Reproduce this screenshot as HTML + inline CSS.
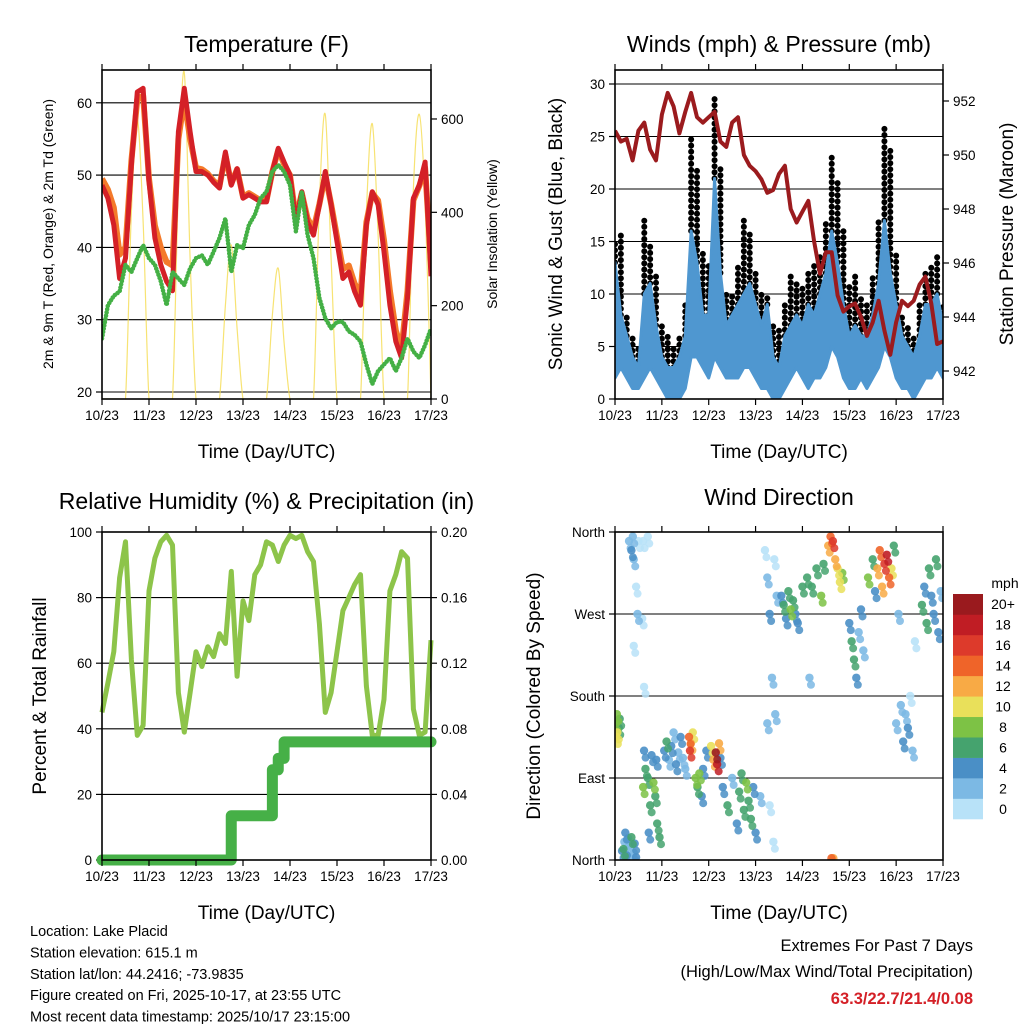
<!DOCTYPE html>
<html><head><meta charset="utf-8"><style>
html,body{margin:0;padding:0;background:#fff}
svg text{font-family:"Liberation Sans",Arial,sans-serif}
</style></head><body>
<svg id="c" width="1024" height="1024" viewBox="0 0 1024 1024" xmlns="http://www.w3.org/2000/svg">
<rect width="1024" height="1024" fill="#fff"/>
</svg>
<script>
// ---------- data (3-hourly samples starting 10/23 UTC) ----------
const dayLabels=["10/23","11/23","12/23","13/23","14/23","15/23","16/23","17/23"];
const temp2m=[48.6,46.8,43.1,35.7,38.5,51.4,61.5,62,49.1,41.3,37.6,35.3,34,56,62,56,50.5,50.5,50,49,48.2,53.2,48.6,50.9,46.8,47.3,46.8,46.3,46.3,50.5,53.7,51.8,50,43.5,47.7,43.5,41.7,45.9,50.5,45.9,40.8,35.7,36.6,33.9,32,43.1,47.7,45.9,39.4,32,27,24.7,33,46.8,48.6,51.8,36];
const temp9m=[49.5,48,45.5,39,40,52,60.5,61,49.5,43,40,38,37.5,55,60.5,55,51,50.8,50.2,49.2,48.5,52.8,48.8,50.8,47,47.5,47,46.5,46.5,50.5,53.5,51.5,50,44,47.5,44,42.5,46,50,46,41.5,37,37.5,35,33.5,43.5,47.5,46.5,41,34,28.5,26,34,46.5,48.5,51,38];
const dewpt=[27.4,32,33.3,33.9,37.6,36.6,38.5,40.3,38.5,37.6,35.3,32,36.6,35.7,34.8,37.1,38.5,38.9,37.6,39.4,41.3,44,36.6,40.3,39.9,43.1,44.5,46.8,47.7,50.5,51.4,50.5,48.6,42.2,47.7,41.7,38.5,33,30.2,28.8,29.7,29.7,28.4,27.9,27,23.8,21.1,22.9,23.8,24.7,22.9,24.7,27.4,25.6,24.7,26.5,28.8];
const solar=[0,0,0,0,0,400,600,380,0,0,0,0,0,450,700,300,0,0,0,0,0,200,330,150,0,0,0,0,0,180,280,120,0,0,0,0,0,420,610,300,0,0,0,0,0,400,590,350,0,0,0,0,0,450,610,420,0];
const windMin=[2,3,2,1,1,2,3,2,1,0,0,0,1,4,4,3,2,4,3,2,2,2,3,3,2,1,1,0,0,1,2,3,2,1,2,2,3,5,4,2,1,1,2,1,2,3,5,4,2,1,1,0,1,2,2,3,2];
const windMax=[13,8,6,4,3,10,11,7,4,3,3,4,6,16,13,8,8,21,12,7,8,9,10,11,9,7,9,4,3,6,7,8,7,9,8,10,12,16,13,9,6,7,6,6,8,11,17,12,9,6,5,4,6,9,9,10,7];
const gust=[15,16,8,6,5,17,15,12,7,6,5,6,9,25,22,14,13,29,22,10,10,13,17,16,12,10,10,7,7,9,12,11,11,12,13,14,17,23,21,16,11,12,10,9,12,17,26,24,14,8,7,6,9,12,13,14,9];
const pressure=[950.9,950.5,950.6,949.8,950.9,951.2,950.2,949.8,951.5,952.3,951.8,950.8,951.6,952.3,951.4,951.2,951.4,951.6,950.5,950.3,951.2,951.4,950.0,949.6,949.4,949.1,948.6,948.7,949.3,949.6,948.0,947.5,947.9,948.3,946.8,945.6,946.4,946.4,944.8,944.2,944.4,944.5,944.0,943.3,943.8,944.6,943.5,942.6,943.8,944.6,944.4,944.6,945.2,945.5,944.5,943.0,943.1];
const rh=[45,54,63.5,86,97,61,38,41,82,92,97,99,96,51,39,51,63.5,59,65,62,69,66,88,56,79,73,87,90,97,96,91,96,99,98,99,94,91,72,45,51,63.5,76,80,84,87,53,38,38,49,82,87,94,92,46,38,39,67];
const precip=[0,0,0,0,0,0,0,0,0,0,0,0,0,0,0,0,0,0,0,0,0,0,0.027,0.027,0.027,0.027,0.027,0.027,0.027,0.055,0.062,0.072,0.072,0.072,0.072,0.072,0.072,0.072,0.072,0.072,0.072,0.072,0.072,0.072,0.072,0.072,0.072,0.072,0.072,0.072,0.072,0.072,0.072,0.072,0.072,0.072,0.072];
// wind direction observations: day offset, degrees, speed mph
const dirDay=[0.02,0.04,0.05,0.08,0.1,0.03,0.15,0.2,0.25,0.3,0.35,0.4,0.45,0.22,0.32,0.42,0.18,0.28,0.3,0.35,0.38,0.4,0.45,0.48,0.5,0.6,0.58,0.62,0.7,0.4,0.6,0.65,0.7,0.75,0.78,0.82,0.86,0.9,0.95,0.62,0.72,0.88,1.05,1.1,1.15,1.2,1.25,1.3,1.35,1.4,1.45,1.5,1.58,1.6,1.62,1.66,1.72,1.76,1.8,1.85,1.88,1.95,2.05,2.1,2.15,2.18,2.22,2.25,2.3,2.4,2.5,2.6,2.65,2.7,2.75,2.8,2.85,2.9,2.95,3.0,3.1,3.2,3.25,3.3,3.35,3.4,3.42,3.45,3.25,3.3,3.38,3.55,3.6,3.65,3.7,3.75,3.8,3.9,4.0,3.85,4.1,4.2,4.3,4.4,4.45,4.15,4.55,4.6,4.65,4.7,4.75,4.8,4.85,4.62,4.66,5.0,5.05,5.1,5.15,5.2,5.25,5.3,5.4,5.5,5.6,5.65,5.7,5.75,5.8,5.85,5.9,5.95,5.55,6.0,6.1,6.15,6.2,6.25,6.3,6.35,6.05,6.4,6.55,6.6,6.65,6.7,6.75,6.8,6.85,6.9,6.95];
const dirDeg=[150,160,140,145,155,135,10,20,5,15,25,8,3,30,2,18,12,24,350,340,355,330,300,270,350,350,265,190,355,235,80,100,90,60,115,85,70,40,25,120,30,110,120,130,110,125,140,105,118,135,112,100,135,120,128,140,90,80,95,70,100,120,125,110,118,105,128,112,80,60,90,40,75,95,55,85,65,45,80,30,70,340,310,270,200,330,160,290,150,60,20,290,280,265,295,275,285,260,300,270,310,300,320,290,325,200,345,355,350,330,320,305,315,2,2,260,240,220,200,250,275,230,310,330,320,340,300,325,335,310,320,345,295,150,170,130,160,145,180,120,270,240,280,300,260,320,290,270,330,250,295];
const dirSpd=[9,8,11,7,6,10,4,3,5,2,6,3,4,5,3,4,6,3,3,4,3,2,1,2,1,0,1,1,0,1,8,6,7,6,5,9,6,7,6,4,5,4,5,6,3,4,3,5,2,4,3,2,14,16,12,11,9,7,8,5,4,4,10,13,20,18,12,5,5,6,3,5,6,7,7,8,6,7,5,4,2,1,2,4,3,1,2,2,3,1,0,5,6,4,7,8,6,5,6,4,7,6,7,8,6,3,12,14,16,12,10,11,9,14,12,4,6,7,5,3,4,2,8,7,12,14,12,16,18,14,10,6,5,3,2,4,3,5,1,3,2,1,6,5,7,6,4,5,7,4,3];
const speedColors=["#b8e2f8","#7cb9e4","#4a8fc6","#45a36e","#7dc245","#e9e05a","#f8aa45","#ef6429","#dd3a2b","#c01d24","#9a1a1e"];
const speedLabels=["0","2","4","6","8","10","12","14","16","18","20+"];

const svg=document.getElementById('c');
const NS="http://www.w3.org/2000/svg";
function mk(tag,attrs,parent){const e=document.createElementNS(NS,tag);for(const k in attrs)e.setAttribute(k,attrs[k]);(parent||svg).appendChild(e);return e;}
function txt(s,x,y,size,anchor,parent,extra){const t=mk('text',Object.assign({x:x,y:y,'font-size':size,'text-anchor':anchor||'middle',fill:'#000'},extra||{}),parent);t.textContent=s;return t;}

function panel(name,x0,y0,x1,y1){
  const g=mk('g',{});
  
  
  return {g,x0,y0,x1,y1,xs:d=>x0+d*(x1-x0)/7};
}
function frame(p,title,titleY){
  const r=mk('rect',{x:p.x0,y:p.y0,width:p.x1-p.x0,height:p.y1-p.y0,fill:'none',stroke:'#000','stroke-width':1.6},p.g);
  
  
  for(let i=0;i<8;i++){const x=p.xs(i);
    mk('line',{x1:x,y1:p.y1,x2:x,y2:p.y1+6,stroke:'#000','stroke-width':1.2},p.g);
    mk('line',{x1:x,y1:p.y0,x2:x,y2:p.y0-6,stroke:'#000','stroke-width':1.2},p.g);
    const t=txt(dayLabels[i],x,p.y1+21,13.5,'middle',p.g);
    
    
  }
  const xt=txt('Time (Day/UTC)',(p.x0+p.x1)/2,p.y1+59,19,'middle',p.g);
  
  
  const tt=txt(title,(p.x0+p.x1)/2,titleY,23,'middle',p.g);
  
  
}
function gridY(p,ys,labels,side){
  ys.forEach((y,i)=>{
    if(side==='left'){
      mk('line',{x1:p.x0,y1:y,x2:p.x1,y2:y,stroke:'#000','stroke-width':1.1},p.g);
      mk('line',{x1:p.x0-6,y1:y,x2:p.x0,y2:y,stroke:'#000','stroke-width':1.2},p.g);
      const t=txt(labels[i],p.x0-10,y+5,13.5,'end',p.g);
      
      
    }else{
      mk('line',{x1:p.x1,y1:y,x2:p.x1+6,y2:y,stroke:'#000','stroke-width':1.2},p.g);
      const t=txt(labels[i],p.x1+10,y+5,13.5,'start',p.g);
      
      
    }
  });
}
function vtitle(p,s,x,y,size,name){const t=txt(s,x,y,size,'middle',p.g,{transform:`rotate(-90 ${x} ${y})`});}
function pts(p,arr,ys){return arr.map((v,i)=>[p.xs(i/8),ys(v)]);}
function linePath(P){return 'M'+P.map(q=>q[0].toFixed(1)+','+q[1].toFixed(1)).join(' L');}
function smoothPath(P){let d=`M${P[0][0]},${P[0][1]}`;for(let i=0;i<P.length-1;i++){const p0=P[Math.max(0,i-1)],p1=P[i],p2=P[i+1],p3=P[Math.min(P.length-1,i+2)];
  d+=` C${p1[0]+(p2[0]-p0[0])/6},${p1[1]+(p2[1]-p0[1])/6} ${p2[0]-(p3[0]-p1[0])/6},${p2[1]-(p3[1]-p1[1])/6} ${p2[0]},${p2[1]}`;}return d;}

// ---------- Temperature panel ----------
(function(){
  const p=panel('temperature-chart',102,70,431,399);
  const yT=v=>392-(v-20)*7.23, yS=v=>399-v*0.4667;
  const clip=mk('clipPath',{id:'cp1'});mk('rect',{x:p.x0,y:p.y0,width:p.x1-p.x0,height:p.y1-p.y0},clip);
  gridY(p,[20,30,40,50,60].map(yT),["20","30","40","50","60"],'left');
  gridY(p,[0,200,400,600].map(yS),["0","200","400","600"],'right');
  const cg=mk('g',{'clip-path':'url(#cp1)'},p.g);
  const so=mk('path',{d:smoothPath(pts(p,solar,yS)),fill:'none',stroke:'#f5dc50','stroke-width':1.2,opacity:0.8},cg);
  
  const o=mk('path',{d:linePath(pts(p,temp9m,yT)),fill:'none',stroke:'#f47a2a','stroke-width':6,'stroke-linejoin':'round'},cg);
  
  const r=mk('path',{d:linePath(pts(p,temp2m,yT)),fill:'none',stroke:'#d42027','stroke-width':5,'stroke-linejoin':'round'},cg);
  
  const gl=mk('path',{d:linePath(pts(p,dewpt,yT)),fill:'none',stroke:'#44b045','stroke-width':4.5,'stroke-linecap':'round','stroke-dasharray':'0.1 3.2'},cg);
  
  frame(p,'Temperature (F)',52);
  vtitle(p,'2m & 9m T (Red, Orange) & 2m Td (Green)',53,234,14,'y-axis-title');
  vtitle(p,'Solar Insolation (Yellow)',497,234,14,'y2-axis-title');
})();

// ---------- Winds panel ----------
(function(){
  const p=panel('winds-pressure-chart',615,70,943,399);
  const yW=v=>399-v*10.5, yP=v=>371-(v-942)*27;
  const clip=mk('clipPath',{id:'cp2'});mk('rect',{x:p.x0,y:p.y0,width:p.x1-p.x0,height:p.y1-p.y0},clip);
  gridY(p,[0,5,10,15,20,25,30].map(yW),["0","5","10","15","20","25","30"],'left');
  gridY(p,[942,944,946,948,950,952].map(yP),["942","944","946","948","950","952"],'right');
  const cg=mk('g',{'clip-path':'url(#cp2)'},p.g);
  gust.forEach((v,i)=>{
    const x=p.xs(i/8);
    const l=mk('line',{x1:x,y1:yW(windMax[i]),x2:x,y2:yW(v),stroke:'#000','stroke-width':6,'stroke-linecap':'round','stroke-dasharray':'0.1 6'},cg);
    
  });
  const top=pts(p,windMax,yW), bot=pts(p,windMin,yW).reverse();
  const band=mk('path',{d:'M'+top.concat(bot).map(q=>q.join(',')).join(' L')+'Z',fill:'#4f97d0',stroke:'#4f97d0','stroke-width':3,'stroke-linejoin':'round'},cg);
  
  const pr=mk('path',{d:linePath(pts(p,pressure,yP)),fill:'none',stroke:'#9b1b1e','stroke-width':4,'stroke-linejoin':'round'},cg);
  
  frame(p,'Winds (mph) & Pressure (mb)',52);
  vtitle(p,'Sonic Wind & Gust (Blue, Black)',562,234,19,'y-axis-title');
  vtitle(p,'Station Pressure (Maroon)',1013,234,19,'y2-axis-title');
})();

// ---------- RH panel ----------
(function(){
  const p=panel('humidity-precip-chart',102,532,431,860);
  const yR=v=>860-v*3.28, yPr=v=>860-v*1640;
  gridY(p,[0,20,40,60,80,100].map(yR),["0","20","40","60","80","100"],'left');
  gridY(p,[0,0.04,0.08,0.12,0.16,0.2].map(yPr),["0.00","0.04","0.08","0.12","0.16","0.20"],'right');
  const clip=mk('clipPath',{id:'cp3'});mk('rect',{x:p.x0-8,y:p.y0,width:p.x1-p.x0+16,height:p.y1-p.y0+8},clip);
  const cg=mk('g',{'clip-path':'url(#cp3)'},p.g);
  const rl=mk('path',{d:linePath(pts(p,rh,yR)),fill:'none',stroke:'#8dc44a','stroke-width':5,'stroke-linejoin':'round'},cg);
  
  let d='';precip.forEach((v,i)=>{const x=p.xs(i/8),y=yPr(v);d+=(i?` L${x},${yPr(precip[i-1])} L`:'M')+`${x},${y}`;});
  const pl=mk('path',{d:d,fill:'none',stroke:'#46b047','stroke-width':11,'stroke-linecap':'round','stroke-linejoin':'round'},cg);
  
  frame(p,'Relative Humidity (%) & Precipitation (in)',509);
  vtitle(p,'Percent & Total Rainfall',46,696,19,'y-axis-title');
})();

// ---------- Wind direction panel ----------
(function(){
  const p=panel('wind-direction-chart',615,532,943,860);
  const yD=v=>860-v*328/360;
  gridY(p,[0,90,180,270,360].map(yD),["North","East","South","West","North"],'left');
  const clip=mk('clipPath',{id:'cp4'});mk('rect',{x:p.x0,y:p.y0,width:p.x1-p.x0,height:p.y1-p.y0},clip);
  const cg=mk('g',{'clip-path':'url(#cp4)'},p.g);
  const order=dirSpd.map((s,i)=>i).sort((a,b)=>dirSpd[a]-dirSpd[b]);
  order.forEach(i=>{
    const b=Math.min(10,Math.floor(dirSpd[i]/2));
    const c=mk('circle',{cx:p.xs(dirDay[i]),cy:yD(dirDeg[i]),r:4.2,fill:speedColors[b],opacity:0.9},cg);
    
    
    const c2=mk('circle',{cx:p.xs(dirDay[i])+1.5,cy:yD(dirDeg[i])+7,r:4,fill:speedColors[b],opacity:0.85},cg);
    
    
  });
  frame(p,'Wind Direction',505);
  vtitle(p,'Direction (Colored By Speed)',540,696,19,'y-axis-title');
  const lg=mk('g',{});
  
  
  const h=225/11;
  speedColors.forEach((c,i)=>{
    const y=819-(i+1)*h;
    const r=mk('rect',{x:953,y:y,width:30,height:h+0.3,fill:c},lg);
    
    const t=txt(speedLabels[i],1003,y+h/2+5,14,'middle',lg);
    
  });
  const u=txt('mph',1005,588,14,'middle',lg);
})();

// ---------- footer ----------
const info=["Location: Lake Placid","Station elevation: 615.1 m","Station lat/lon: 44.2416; -73.9835","Figure created on Fri, 2025-10-17, at 23:55 UTC","Most recent data timestamp: 2025/10/17 23:15:00"];
info.forEach((s,i)=>{const t=txt(s,30,936+i*21.4,14.5,'start');});
const e1=txt('Extremes For Past 7 Days',973,951,16.5,'end');
const e2=txt('(High/Low/Max Wind/Total Precipitation)',973,977,16.5,'end');
const e3=txt('63.3/22.7/21.4/0.08',973,1004,16.5,'end',null,{'font-weight':'bold',style:'fill:#d42027'});
</script>
</body></html>
